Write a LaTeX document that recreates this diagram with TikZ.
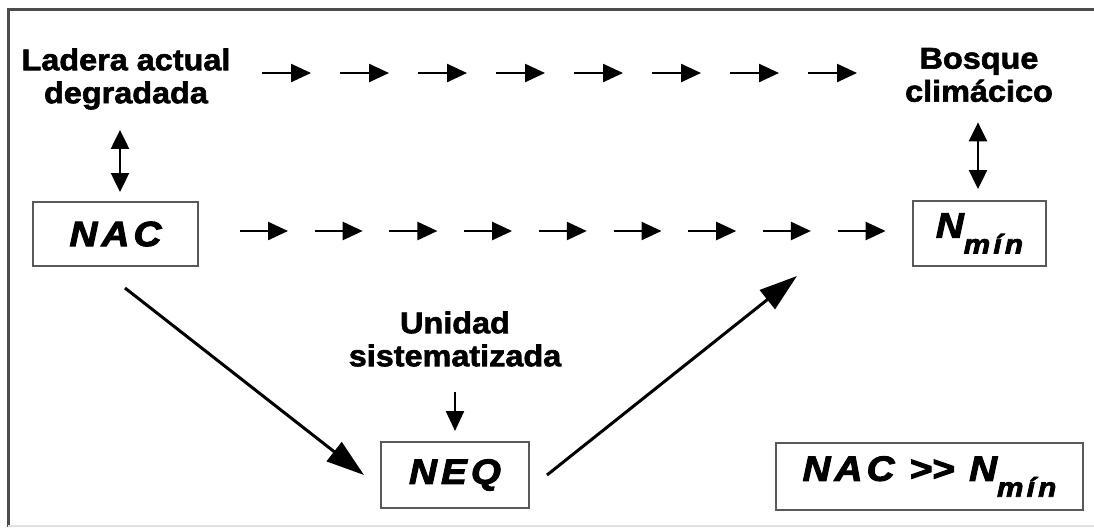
\documentclass[tikz,border=0pt]{standalone}
\usepackage{fontspec}
\usetikzlibrary{arrows.meta}
\newfontfamily\rotfont{Liberation Sans Bold}[FakeStretch=1.08,FakeBold=2]
\newfontfamily\nivfont{Liberation Sans Bold Italic}[FakeStretch=1.1,FakeBold=3,LetterSpace=12]
\newcommand\Nmin{N\raisebox{-8pt}{\fontsize{13.5}{13.5}\selectfont mín}}
\begin{document}
\begin{tikzpicture}[x=0.5pt,y=-0.5pt,
    rotulo/.style={font=\rotfont\fontsize{15}{16.5}\selectfont,align=center,inner sep=0pt},
    nivel/.style={draw=black!65,line width=1pt,font=\nivfont\fontsize{17.5}{17.5}\selectfont,inner sep=0pt},
    flecha/.style={-{Triangle[length=10pt,width=9pt]},line width=1.2pt},
    doble/.style={{Triangle[length=9.5pt,width=9pt]}-{Triangle[length=9.5pt,width=9pt]},line width=1.2pt},
    grande/.style={-{Triangle[length=19pt,width=12pt]},line width=1.5pt}]
  \useasboundingbox (0,0) rectangle (1094,527);
  % marco
  \draw[black!70,line width=1.5pt] (8,527) -- (8,9) -- (1094,9);
  \draw[black!12,line width=0.8pt] (8,526) -- (1094,526);
  % rotulos
  \node[rotulo] (ladera) at (126,79) {Ladera actual\\degradada};
  \node[rotulo] (bosque) at (979,75) {Bosque\\climácico};
  \node[rotulo] (unidad) at (455,339) {Unidad\\sistematizada};
  % niveles
  \node[nivel,minimum width=82.5pt,minimum height=32pt] (nac) at (115.5,234) {NAC};
  \node[nivel,minimum width=66.5pt,minimum height=32.5pt] (nmin) at (979.5,233.5) {\Nmin};
  \node[nivel,minimum width=74pt,minimum height=33pt] (neq) at (455,475) {NEQ};
  \node[nivel,minimum width=153.5pt,minimum height=33.5pt] (rel) at (929.5,476.5) {NAC >\kern0pt> \Nmin};
  % sucesion
  \foreach \k in {0,...,7}
    \draw[flecha] (262+78*\k,73) -- ++(49,0);
  \foreach \k in {0,...,8}
    \draw[flecha] (240+74.7*\k,231) -- ++(48,0);
  % correspondencias
  \draw[doble,shorten <=10pt,shorten >=4.5pt] ([xshift=2.25pt]ladera.south -| nac.north) -- ([xshift=2.25pt]nac.north);
  \draw[doble,shorten <=10pt,shorten >=5.5pt] ([xshift=-0.75pt]bosque.south -| nmin.north) -- ([xshift=-0.75pt]nmin.north);
  \draw[flecha,shorten <=12.5pt,shorten >=5pt] (unidad.south) -- (neq.north);
  % trayectoria
  \draw[grande] ([xshift=4.75pt,yshift=-10.5pt]nac.south) -- ([xshift=-8pt]neq.west);
  \draw[grande] ([xshift=8.5pt]neq.east) -- ([xshift=-57.5pt,yshift=-4.5pt]nmin.south west);
\end{tikzpicture}
\end{document}
